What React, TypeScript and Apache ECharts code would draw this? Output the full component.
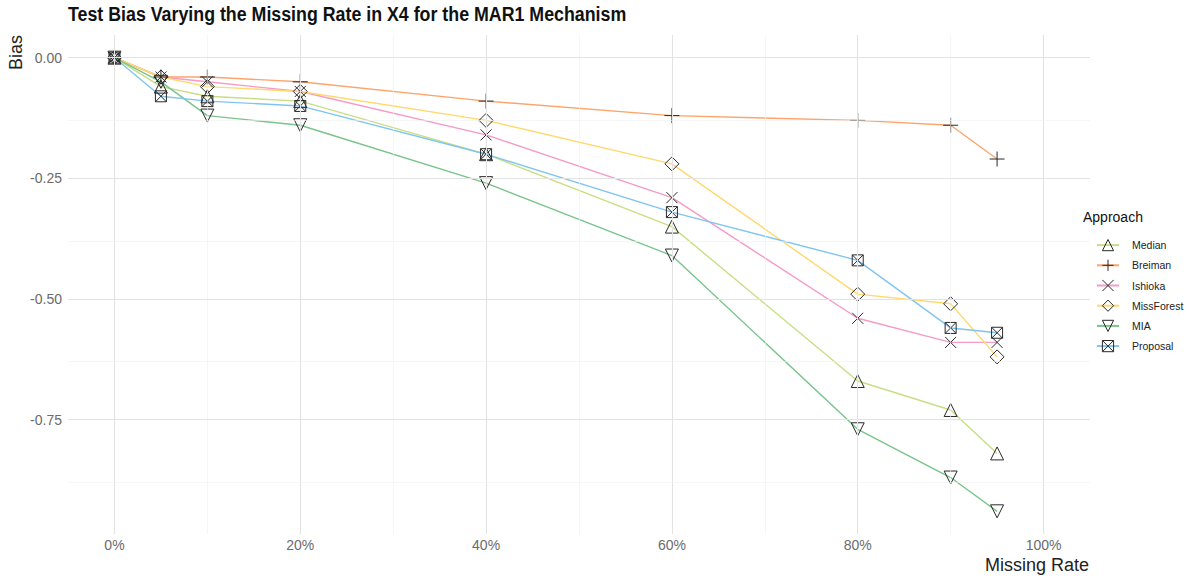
import React, { useEffect, useRef } from "react";
import * as echarts from "echarts";

const missingRates = [0, 5, 10, 20, 40, 60, 80, 90, 95];
const approaches = ["Median", "Breiman", "Ishioka", "MissForest", "MIA", "Proposal"];
const median = [0, -0.06, -0.08, -0.09, -0.2, -0.35, -0.67, -0.73, -0.82];
const breiman = [0, -0.04, -0.04, -0.05, -0.09, -0.12, -0.13, -0.14, -0.21];
const ishioka = [0, -0.04, -0.05, -0.07, -0.16, -0.29, -0.54, -0.59, -0.59];
const missForest = [0, -0.04, -0.06, -0.07, -0.13, -0.22, -0.49, -0.51, -0.62];
const mia = [0, -0.05, -0.12, -0.14, -0.26, -0.41, -0.77, -0.87, -0.94];
const proposal = [0, -0.08, -0.09, -0.1, -0.2, -0.32, -0.42, -0.56, -0.57];
const xTicks = [0, 20, 40, 60, 80, 100];
const xMinor = [10, 30, 50, 70, 90];
const yTicks = [0, -0.25, -0.5, -0.75];
const yMinor = [-0.125, -0.375, -0.625, -0.875];

const seriesValues = [median, breiman, ishioka, missForest, mia, proposal];
const colors = ["#C9DE84", "#FDA46C", "#F59BC4", "#FFD86E", "#78C48A", "#7FC5F1"];
const symbols = [
  "triangle",
  "path://M0,5L10,5M5,0L5,10",
  "path://M0,0L10,10M10,0L0,10",
  "diamond",
  "triangle",
  "path://M0,0L10,0L10,10L0,10ZM0,0L10,10M10,0L0,10",
];
const symbolSizes = [13, 15, 11, 14, 13, 11];
const rotations = [0, 0, 0, 0, 180, 0];

export default function App() {
  const ref = useRef<HTMLDivElement>(null);
  useEffect(() => {
    document.body.style.margin = "0";
    const chart = echarts.init(ref.current!, null, { renderer: "svg" });
    const font = "Liberation Sans, Arial, sans-serif";
    const gridSeries: any = {
      type: "line",
      data: [],
      silent: true,
      z: 0,
      markLine: {
        silent: true,
        symbol: "none",
        label: { show: false },
        animation: false,
        data: [
          ...xTicks.map((v) => ({ xAxis: v, lineStyle: { color: "#E3E3E3", width: 1.1, type: "solid" } })),
          ...xMinor.map((v) => ({ xAxis: v, lineStyle: { color: "#F0F0F0", width: 0.6, type: "solid" } })),
          ...yTicks.map((v) => ({ yAxis: v, lineStyle: { color: "#E3E3E3", width: 1.1, type: "solid" } })),
          ...yMinor.map((v) => ({ yAxis: v, lineStyle: { color: "#F0F0F0", width: 0.6, type: "solid" } })),
        ],
      },
    };
    const dataSeries = approaches.map((name, i) => ({
      name,
      type: "line",
      z: 2,
      data: missingRates.map((x, j) => [x, seriesValues[i][j]]),
      symbol: symbols[i],
      symbolSize: symbolSizes[i],
      symbolRotate: rotations[i],
      showAllSymbol: true,
      lineStyle: { color: colors[i], width: 1.4 },
      itemStyle: { color: "rgba(0,0,0,0)", borderColor: "#2a2a2a", borderWidth: 1 },
      emphasis: { disabled: true },
    }));
    chart.setOption({
      animation: false,
      legend: {
        orient: "vertical",
        left: 1091,
        top: 234,
        itemGap: 8,
        itemWidth: 22,
        itemHeight: 14,
        data: approaches.map((name) => ({
          name,
          itemStyle: { color: "rgba(0,0,0,0)", borderColor: "#2a2a2a", borderWidth: 1 },
        })),
        textStyle: { fontFamily: font, fontSize: 10.5, color: "#222", padding: [0, 0, 0, 8] },
      },
      graphic: [
        {
          type: "text",
          left: 68,
          top: 4,
          scaleX: 0.89,
          style: {
            text: "Test Bias Varying the Missing Rate in X4 for the MAR1 Mechanism",
            font: `bold 20px ${font}`,
            fill: "#111",
          },
        },
        {
          type: "text",
          x: 1083,
          y: 210,
          style: { text: "Approach", font: `14px ${font}`, fill: "#111" },
        },
        {
          type: "text",
          x: 1089,
          y: 556,
          style: { text: "Missing Rate", font: `18px ${font}`, fill: "#222", align: "right" },
        },
        {
          type: "text",
          x: 7,
          y: 70,
          rotation: Math.PI / 2,
          style: { text: "Bias", font: `18px ${font}`, fill: "#222", align: "left", verticalAlign: "top" },
        },
      ],
      grid: { left: 68, right: 100, top: 35, bottom: 48 },
      xAxis: {
        type: "value",
        min: -5,
        max: 105,
        axisLine: { show: false },
        axisTick: { show: false },
        splitLine: { show: false },
        axisLabel: {
          customValues: xTicks,
          formatter: (v: number) => `${v}%`,
          fontFamily: font,
          fontSize: 14,
          color: "#6B6B6B",
          margin: 4,
        },
      },
      yAxis: {
        type: "value",
        min: -0.987,
        max: 0.047,
        axisLine: { show: false },
        axisTick: { show: false },
        splitLine: { show: false },
        axisLabel: {
          customValues: yTicks,
          formatter: (v: number) => v.toFixed(2),
          fontFamily: font,
          fontSize: 14,
          color: "#6B6B6B",
          margin: 6,
        },
      },
      series: [gridSeries, ...dataSeries],
    });
    return () => chart.dispose();
  }, []);
  return <div ref={ref} style={{ width: 1190, height: 582 }} />;
}
